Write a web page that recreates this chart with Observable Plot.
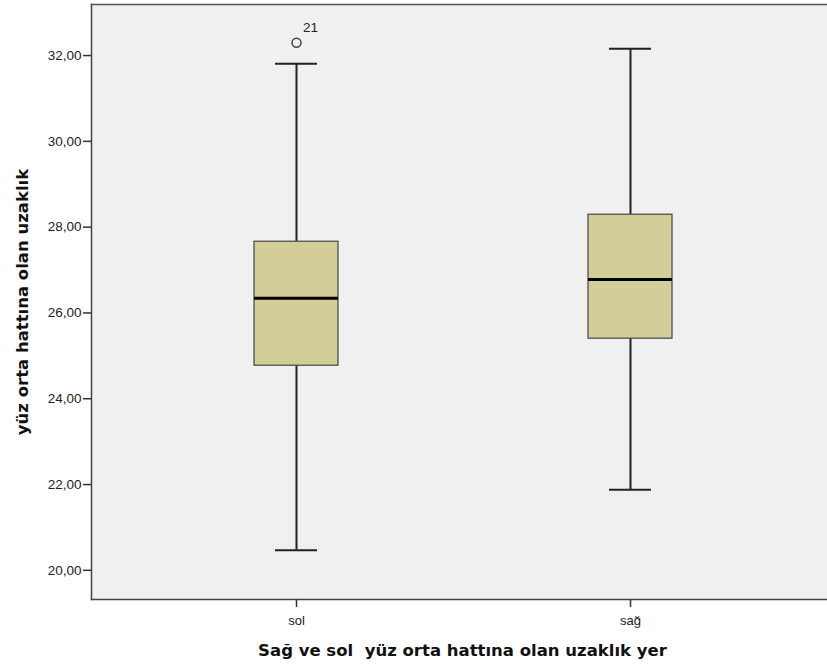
<!DOCTYPE html>
<html>
<head>
<meta charset="utf-8">
<script src="https://cdn.jsdelivr.net/npm/d3@7"></script>
<script src="https://cdn.jsdelivr.net/npm/@observablehq/plot@0.6"></script>
<style>
  html, body { margin: 0; padding: 0; background: #ffffff; }
  #chart svg { display: block; }
</style>
</head>
<body>
<div id="chart"></div>
<script>
const categories = ["sol", "sağ"];
const whiskerLow = [20.47, 21.88];
const q1 = [24.77, 25.40];
const median = [26.34, 26.78];
const q3 = [27.66, 28.29];
const whiskerHigh = [31.81, 32.16];
const outlierCategory = ["sol"];
const outlierValue = [32.30];
const outlierLabel = ["21"];
const yTicks = [20, 22, 24, 26, 28, 30, 32];
const xTitle = "Sağ ve sol  yüz orta hattına olan uzaklık yer";
const yTitle = "yüz orta hattına olan uzaklık";

const boxes = categories.map((c, i) => ({
  cat: c, lo: whiskerLow[i], q1: q1[i], med: median[i], q3: q3[i], hi: whiskerHigh[i]
}));
const outliers = outlierCategory.map((c, i) => ({cat: c, value: outlierValue[i], label: outlierLabel[i]}));

const fmt = d => d.toFixed(2).replace(".", ",");

const chart = Plot.plot({
  width: 827,
  height: 671,
  marginLeft: 91,
  marginTop: 4,
  marginBottom: 72,
  marginRight: 0,
  style: {fontFamily: "Liberation Sans, Arial, sans-serif", fontSize: "13px", color: "#222", background: "#ffffff"},
  x: {domain: categories, range: [91, 834], paddingInner: 0.75, paddingOuter: 0.484, align: 0.5, label: null},
  y: {domain: [19.32, 33.19], label: null},
  marks: [
    Plot.frame({fill: "#f0f0f0", stroke: null}),
    Plot.frame({anchor: "top", stroke: "#555", strokeWidth: 1.5}),
    Plot.frame({anchor: "bottom", stroke: "#444", strokeWidth: 1.5}),
    Plot.frame({anchor: "left", stroke: "#444", strokeWidth: 1.5}),
    Plot.axisY({ticks: yTicks, tickFormat: fmt, tickSize: 8, tickPadding: 2, stroke: "#333", strokeWidth: 1.5, fontSize: 13.5, fill: "#222", label: null}),
    Plot.axisX({tickSize: 8, tickPadding: 8, stroke: "#333", strokeWidth: 1.5, fontSize: 13, fill: "#222", label: null}),
    Plot.ruleX(boxes, {x: "cat", y1: "lo", y2: "q1", stroke: "#222", strokeWidth: 2}),
    Plot.ruleX(boxes, {x: "cat", y1: "q3", y2: "hi", stroke: "#222", strokeWidth: 2}),
    Plot.tickY(boxes, {x: "cat", y: "lo", stroke: "#222", strokeWidth: 2, insetLeft: 21, insetRight: 21}),
    Plot.tickY(boxes, {x: "cat", y: "hi", stroke: "#222", strokeWidth: 2, insetLeft: 21, insetRight: 21}),
    Plot.barY(boxes, {x: "cat", y1: "q1", y2: "q3", fill: "#d3ce98", stroke: "#444", strokeWidth: 1.2}),
    Plot.tickY(boxes, {x: "cat", y: "med", stroke: "#000", strokeWidth: 3}),
    Plot.dot(outliers, {x: "cat", y: "value", r: 4.5, stroke: "#444", strokeWidth: 1.5, fill: "none"}),
    Plot.text(outliers, {x: "cat", y: "value", text: "label", dx: 14, dy: -15, fontSize: 13.5, fill: "#222"}),
    Plot.text([yTitle], {frameAnchor: "left", dx: -69, rotate: -90, textAnchor: "middle", lineAnchor: "middle", fontWeight: "bold", fontSize: 16.5, fontFamily: "DejaVu Sans, sans-serif", fill: "#111"}),
    Plot.text([xTitle], {frameAnchor: "bottom", dx: 3, dy: 51, textAnchor: "middle", lineAnchor: "middle", fontWeight: "bold", fontSize: 16.5, fontFamily: "DejaVu Sans, sans-serif", fill: "#111"})
  ]
});
document.getElementById("chart").appendChild(chart);
</script>
</body>
</html>
